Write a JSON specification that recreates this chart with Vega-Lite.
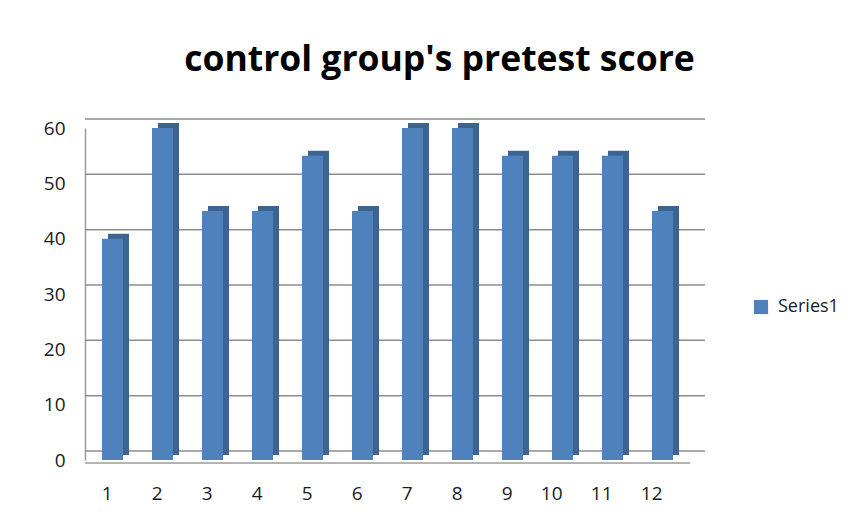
{
  "$schema": "https://vega.github.io/schema/vega-lite/v6.json",
  "autosize": {"type": "none"},
  "width": 605,
  "height": 332,
  "padding": {"left": 85, "top": 128, "right": 166, "bottom": 59},
  "background": "white",
  "title": {
    "text": "control group's pretest score",
    "font": "Open Sans",
    "fontWeight": "bold",
    "fontSize": 35.5,
    "color": "#000000",
    "anchor": "middle",
    "dx": 52,
    "offset": 40
  },
  "datasets": {
    "scores": [
      {"student": "1", "score": 40, "series": "Series1"},
      {"student": "2", "score": 60, "series": "Series1"},
      {"student": "3", "score": 45, "series": "Series1"},
      {"student": "4", "score": 45, "series": "Series1"},
      {"student": "5", "score": 55, "series": "Series1"},
      {"student": "6", "score": 45, "series": "Series1"},
      {"student": "7", "score": 60, "series": "Series1"},
      {"student": "8", "score": 60, "series": "Series1"},
      {"student": "9", "score": 55, "series": "Series1"},
      {"student": "10", "score": 55, "series": "Series1"},
      {"student": "11", "score": 55, "series": "Series1"},
      {"student": "12", "score": 45, "series": "Series1"}
    ],
    "grid": [
      {"g": 0}, {"g": 10}, {"g": 20}, {"g": 30}, {"g": 40}, {"g": 50}, {"g": 60}
    ]
  },
  "layer": [
    {
      "data": {"name": "grid"},
      "mark": {"type": "rule", "color": "#8c8c8c", "strokeWidth": 1.5, "xOffset": 15, "x2Offset": 15, "yOffset": -9},
      "encoding": {
        "y": {"field": "g", "type": "quantitative", "scale": {"domain": [0, 60]}}
      }
    },
    {
      "data": {"values": [{"g": 0}]},
      "mark": {"type": "rule", "color": "#9a9a9a", "strokeWidth": 1.5, "yOffset": 3},
      "encoding": {
        "y": {"field": "g", "type": "quantitative"}
      }
    },
    {
      "data": {"name": "scores"},
      "mark": {"type": "bar", "color": "#3d6491", "xOffset": 6, "x2Offset": 6, "yOffset": -5, "y2Offset": -5},
      "encoding": {
        "x": {"field": "student", "type": "ordinal", "sort": null},
        "y": {"field": "score", "type": "quantitative"}
      }
    },
    {
      "data": {"name": "scores"},
      "mark": {"type": "bar"},
      "encoding": {
        "x": {
          "field": "student", "type": "ordinal", "sort": null,
          "scale": {"paddingInner": 0.58, "paddingOuter": 0.34},
          "axis": {
            "title": null, "labelAngle": 0, "labelFont": "Open Sans", "labelFontSize": 19,
            "labelColor": "#1a1a1a", "ticks": false, "domain": false, "labelPadding": 33
          }
        },
        "y": {
          "field": "score", "type": "quantitative",
          "scale": {"domain": [0, 60]},
          "axis": {
            "title": null, "values": [0, 10, 20, 30, 40, 50, 60], "grid": false,
            "ticks": false, "domainColor": "#9a9a9a", "domainWidth": 1.5,
            "labelFont": "Open Sans", "labelFontSize": 19, "labelColor": "#1a1a1a", "labelPadding": 20
          }
        },
        "color": {
          "field": "series", "type": "nominal",
          "scale": {"range": ["#4f81bd"]},
          "legend": {
            "title": null, "orient": "none", "legendX": 667, "legendY": 170,
            "symbolType": "square", "symbolSize": 200, "labelFont": "Open Sans",
            "labelFontSize": 18, "labelColor": "#1a1a1a", "labelOffset": 8
          }
        }
      }
    }
  ],
  "config": {"view": {"stroke": null}}
}
